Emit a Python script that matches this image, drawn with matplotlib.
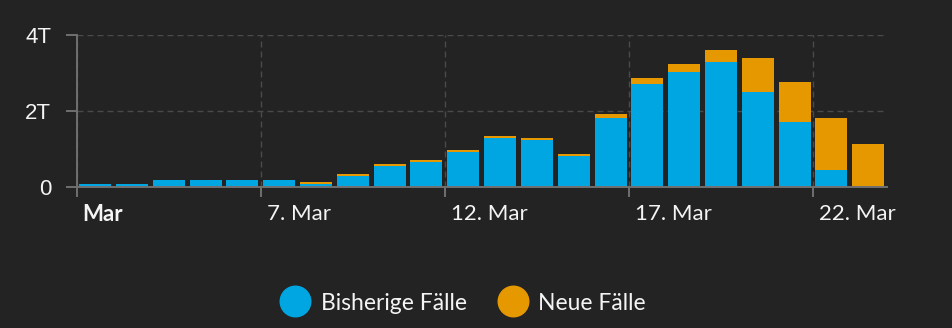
import matplotlib
matplotlib.use("Agg")
import matplotlib.pyplot as plt
import matplotlib.transforms as mtransforms
from matplotlib.lines import Line2D
from matplotlib.ticker import FuncFormatter, FixedLocator

plt.rcParams['font.family'] = ['Lato', 'DejaVu Sans']
plt.rcParams['lines.scale_dashes'] = False

# Daily cases, 2. Mar .. 23. Mar
days = list(range(2, 24))
bisherige = [70, 70, 175, 175, 175, 175, 70, 280, 545, 650, 913, 1280, 1230,
             810, 1810, 2700, 3020, 3280, 2490, 1700, 440, 0]
neue = [0, 0, 0, 0, 0, 0, 50, 55, 55, 50, 55, 50, 50, 50, 105, 158, 210,
        316, 895, 1053, 1368, 1124]

tick_days = [2, 7, 12, 17, 22]
tick_labels = ["Mar", "7. Mar", "12. Mar", "17. Mar", "22. Mar"]
y_ticks = [0, 2000, 4000]

BG = "#232323"
BLUE = "#00a6e2"
ORANGE = "#e59800"
TEXT = "#f4f4f4"
AXIS = "#707070"
GRID = "#4a4a4a"

fig = plt.figure(figsize=(9.52, 3.28), dpi=100, facecolor=BG)
ax = fig.add_axes([76.7 / 952, 1 - 186.7 / 328, 810 / 952, 152 / 328])
ax.set_facecolor(BG)

x = [d - days[0] + 0.5 for d in days]
ax.bar(x, bisherige, width=0.87, color=BLUE, label="Bisherige Fälle", zorder=2)
ax.bar(x, neue, width=0.87, bottom=bisherige, color=ORANGE, label="Neue Fälle", zorder=2)

ax.set_xlim(0, len(days))
ax.set_ylim(0, 4000)

ax.xaxis.set_major_locator(FixedLocator([d - days[0] for d in tick_days]))
ax.set_xticklabels(tick_labels, ha="left")
ax.yaxis.set_major_locator(FixedLocator(y_ticks))
ax.yaxis.set_major_formatter(FuncFormatter(lambda v, p: "0" if v == 0 else f"{int(v / 1000)}T"))

ax.tick_params(axis="x", direction="out", length=7.2, width=1.4, color=AXIS,
               labelcolor=TEXT, labelsize=16, pad=5)
ax.tick_params(axis="y", direction="out", length=8, width=1.4, color=AXIS,
               labelcolor=TEXT, labelsize=16, pad=10.5)
for lab in ax.get_yticklabels():
    lab.set_family(["Liberation Sans", "DejaVu Sans"])

offset = mtransforms.ScaledTranslation(6 / 100, 0, fig.dpi_scale_trans)
for i, lab in enumerate(ax.get_xticklabels()):
    lab.set_transform(lab.get_transform() + offset)
    if i == 0:
        lab.set_fontweight("bold")

for s in ["top", "right"]:
    ax.spines[s].set_visible(False)
for s in ["left", "bottom"]:
    ax.spines[s].set_color(AXIS)
    ax.spines[s].set_linewidth(1.4)
    ax.spines[s].set_zorder(3)

ax.grid(True, axis="both", color=GRID, linewidth=1.0, linestyle=(0, (4.3, 2.9)), zorder=1)
ax.set_axisbelow(True)

handles = [Line2D([0], [0], marker="o", linestyle="none", markersize=22,
                  markerfacecolor=BLUE, markeredgecolor=BLUE),
           Line2D([0], [0], marker="o", linestyle="none", markersize=22,
                  markerfacecolor=ORANGE, markeredgecolor=ORANGE)]
leg = fig.legend(handles, ["Bisherige Fälle", "Neue Fälle"], loc="center",
                 bbox_to_anchor=(465 / 952, 1 - 303 / 328), ncol=2, frameon=False,
                 fontsize=16.5, handlelength=1.0, handletextpad=0.62, columnspacing=1.5)
for t in leg.get_texts():
    t.set_color(TEXT)

fig.savefig("out.png", dpi=100, facecolor=BG)
